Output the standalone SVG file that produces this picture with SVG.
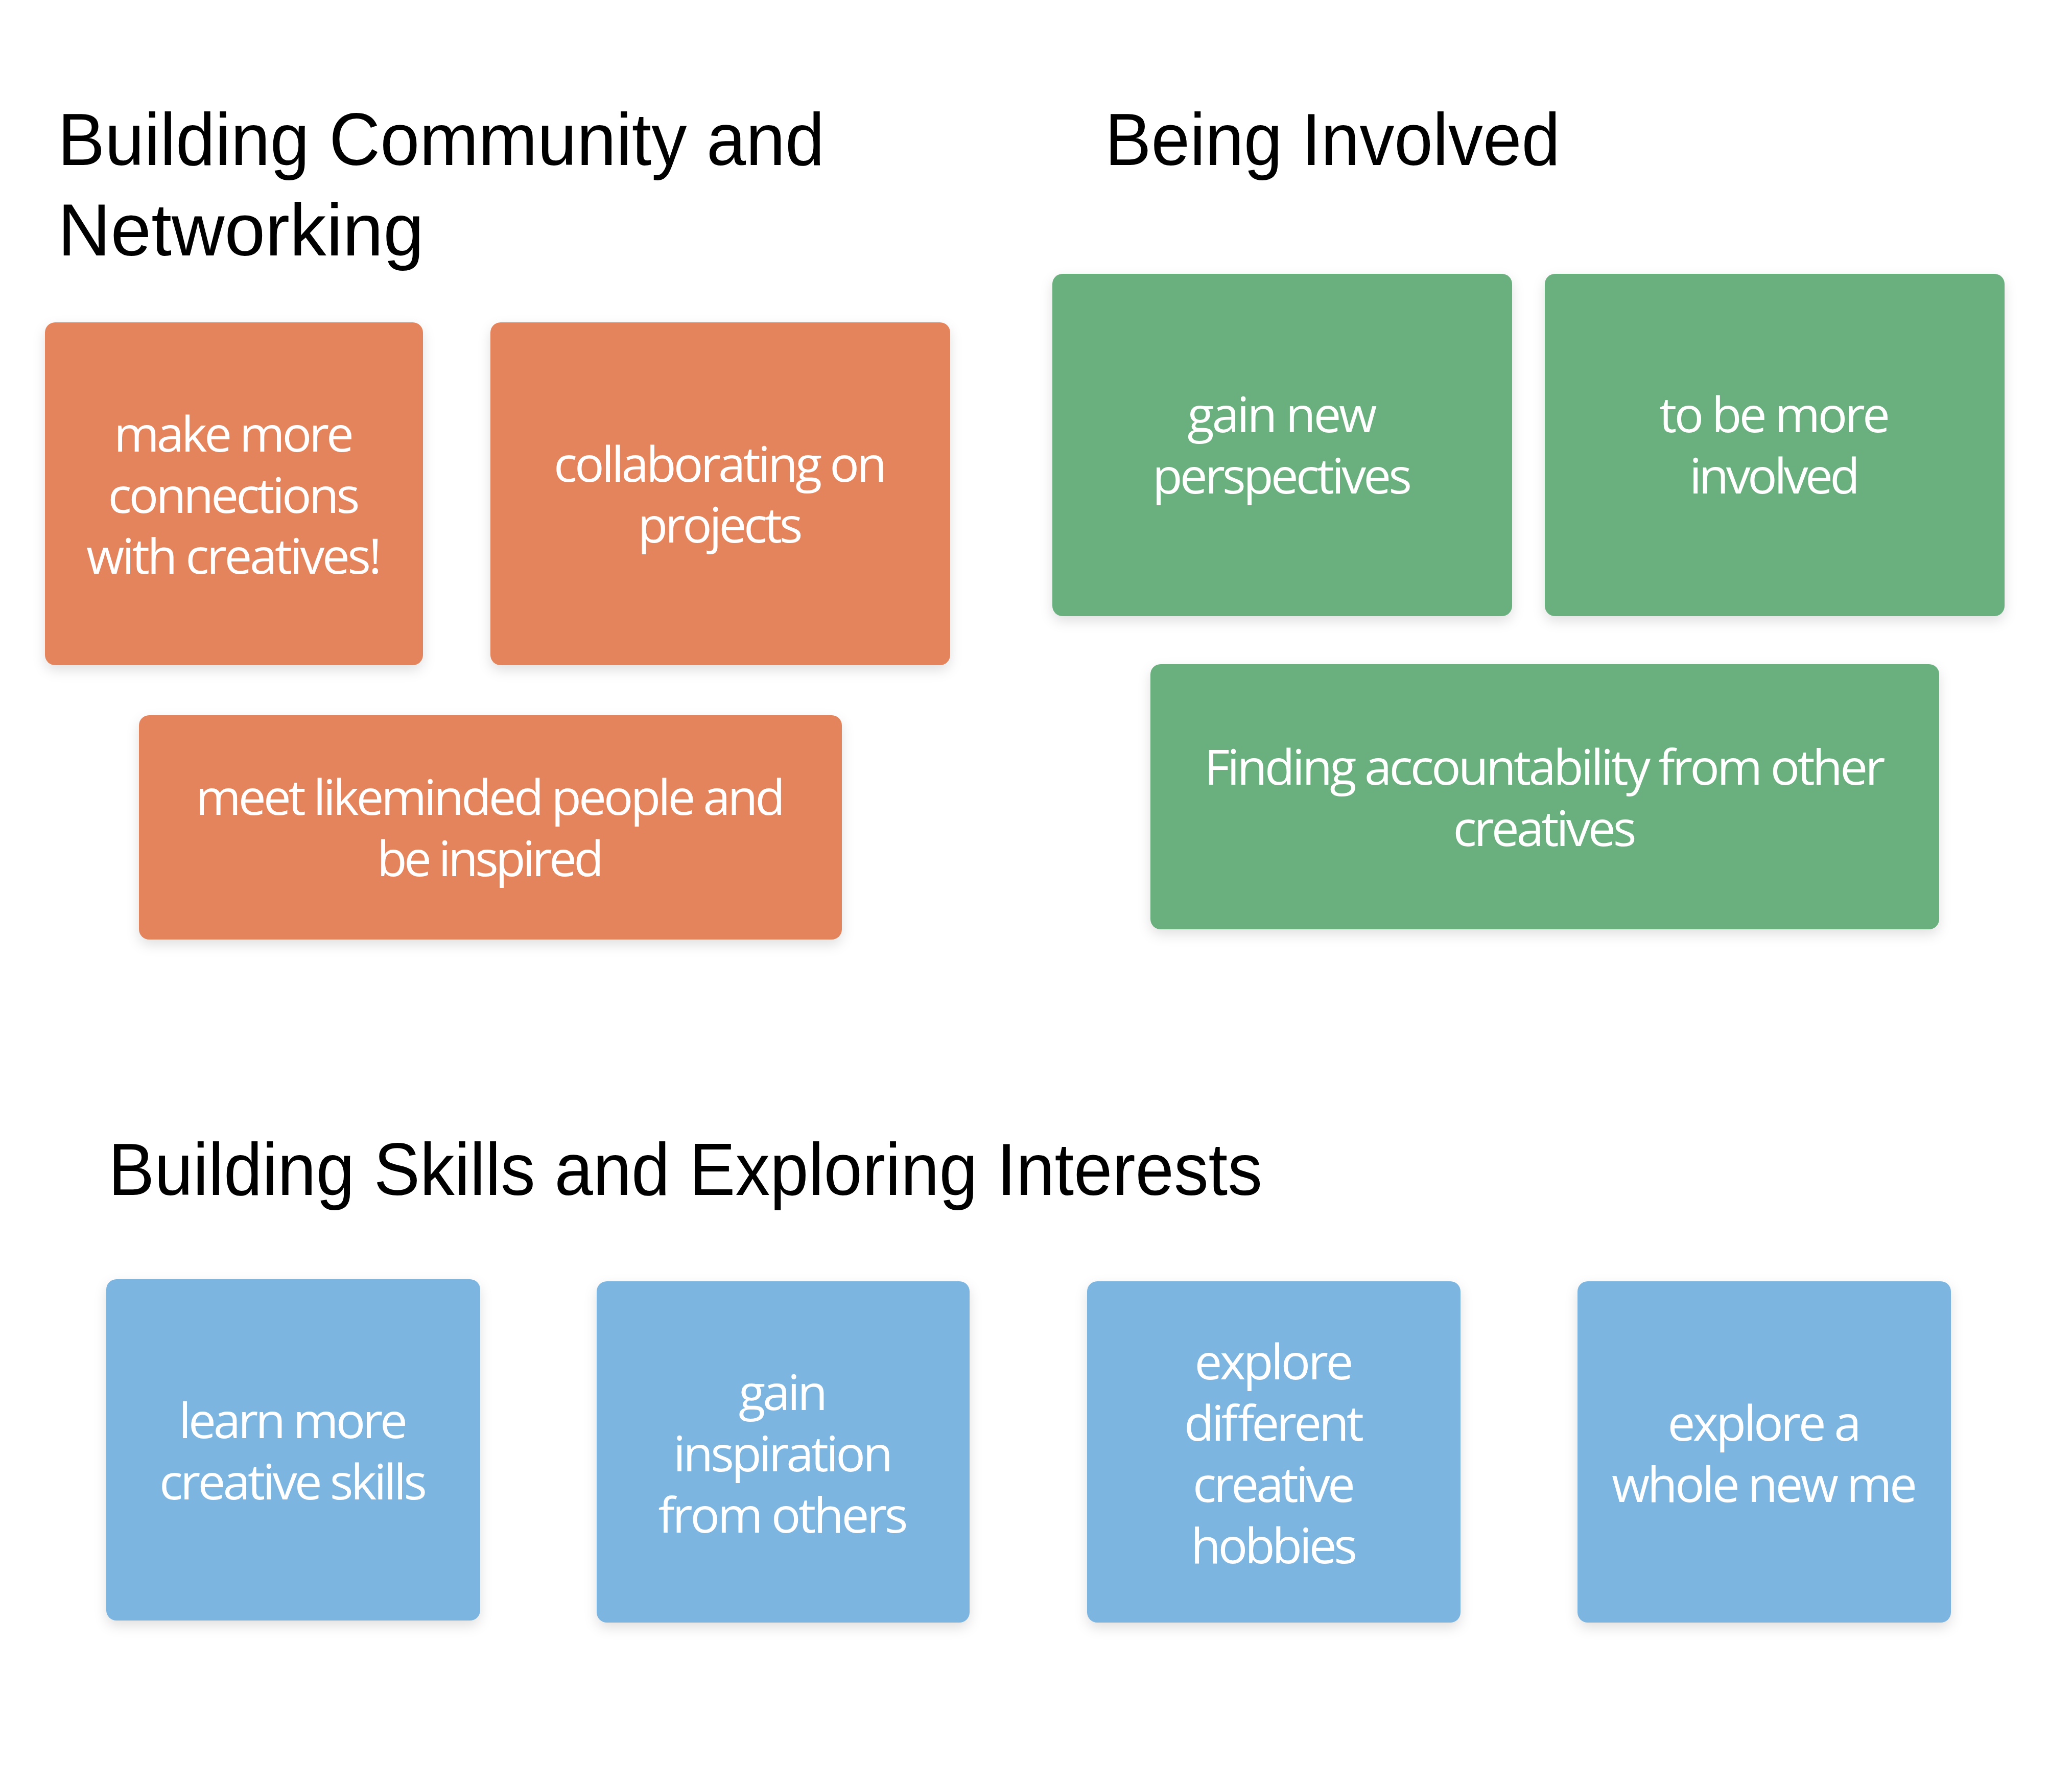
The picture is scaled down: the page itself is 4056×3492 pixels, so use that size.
<svg xmlns="http://www.w3.org/2000/svg" width="4056" height="3492" viewBox="0 0 4056 3492">
<defs>
<filter id="sh" x="-10%" y="-10%" width="120%" height="130%">
<feDropShadow dx="0" dy="10" stdDeviation="12" flood-color="#000" flood-opacity="0.12"/>
</filter>
<style>
.title{font-family:"Liberation Sans",Arial,sans-serif;font-size:145px;fill:#000;}
.card{filter:url(#sh);}
.o{fill:#E4845C;}
.g{fill:#6AB07E;}
.b{fill:#7BB5E0;}
.t{font-family:"Open Sans","Noto Sans",sans-serif;font-weight:400;font-size:96px;fill:#fff;text-anchor:middle;}
</style>
</defs>
<rect width="4056" height="3492" fill="#fff"/>

<g id="title-community">
<text class="title" x="113" y="323" textLength="1501" lengthAdjust="spacingAndGlyphs">Building Community and</text>
<text class="title" x="113" y="500" textLength="717" lengthAdjust="spacingAndGlyphs">Networking</text>
</g>
<g id="title-involved">
<text class="title" x="2163" y="323" textLength="891" lengthAdjust="spacingAndGlyphs">Being Involved</text>
</g>
<g id="title-skills">
<text class="title" x="212" y="2339" textLength="2259" lengthAdjust="spacingAndGlyphs">Building Skills and Exploring Interests</text>
</g>

<g id="node-connections">
<rect class="card o" x="88" y="631" width="740" height="671" rx="20"/>
<text class="t" x="458" y="884" textLength="470" lengthAdjust="spacing">make more</text>
<text class="t" x="458" y="1004" textLength="493" lengthAdjust="spacing">connections</text>
<text class="t" x="458" y="1123" textLength="578" lengthAdjust="spacing">with creatives!</text>
</g>
<g id="node-collaborating">
<rect class="card o" x="960" y="631" width="900" height="671" rx="20"/>
<text class="t" x="1410" y="943" textLength="652" lengthAdjust="spacing">collaborating on</text>
<text class="t" x="1410" y="1062" textLength="323" lengthAdjust="spacing">projects</text>
</g>
<g id="node-likeminded">
<rect class="card o" x="272" y="1400" width="1376" height="439" rx="20"/>
<text class="t" x="960" y="1595" textLength="1154" lengthAdjust="spacing">meet likeminded people and</text>
<text class="t" x="960" y="1715" textLength="444" lengthAdjust="spacing">be inspired</text>
</g>

<g id="node-perspectives">
<rect class="card g" x="2060" y="536" width="900" height="670" rx="20"/>
<text class="t" x="2510" y="846" textLength="371" lengthAdjust="spacing">gain new</text>
<text class="t" x="2510" y="966" textLength="508" lengthAdjust="spacing">perspectives</text>
</g>
<g id="node-involved">
<rect class="card g" x="3024" y="536" width="900" height="670" rx="20"/>
<text class="t" x="3474" y="846" textLength="452" lengthAdjust="spacing">to be more</text>
<text class="t" x="3474" y="966" textLength="334" lengthAdjust="spacing">involved</text>
</g>
<g id="node-accountability">
<rect class="card g" x="2252" y="1300" width="1544" height="519" rx="20"/>
<text class="t" x="3024" y="1536" textLength="1333" lengthAdjust="spacing">Finding accountability from other</text>
<text class="t" x="3024" y="1656" textLength="359" lengthAdjust="spacing">creatives</text>
</g>

<g id="node-skills">
<rect class="card b" x="208" y="2504" width="732" height="668" rx="20"/>
<text class="t" x="574" y="2815" textLength="448" lengthAdjust="spacing">learn more</text>
<text class="t" x="574" y="2935" textLength="524" lengthAdjust="spacing">creative skills</text>
</g>
<g id="node-inspiration">
<rect class="card b" x="1168" y="2508" width="730" height="668" rx="20"/>
<text class="t" x="1533" y="2760" textLength="174" lengthAdjust="spacing">gain</text>
<text class="t" x="1533" y="2880" textLength="430" lengthAdjust="spacing">inspiration</text>
<text class="t" x="1533" y="3000" textLength="489" lengthAdjust="spacing">from others</text>
</g>
<g id="node-hobbies">
<rect class="card b" x="2128" y="2508" width="731" height="668" rx="20"/>
<text class="t" x="2494" y="2700" textLength="311" lengthAdjust="spacing">explore</text>
<text class="t" x="2494" y="2820" textLength="352" lengthAdjust="spacing">different</text>
<text class="t" x="2494" y="2940" textLength="318" lengthAdjust="spacing">creative</text>
<text class="t" x="2494" y="3060" textLength="326" lengthAdjust="spacing">hobbies</text>
</g>
<g id="node-newme">
<rect class="card b" x="3088" y="2508" width="731" height="668" rx="20"/>
<text class="t" x="3454" y="2820" textLength="379" lengthAdjust="spacing">explore a</text>
<text class="t" x="3454" y="2940" textLength="598" lengthAdjust="spacing">whole new me</text>
</g>

<g id="connectors"></g>
</svg>
